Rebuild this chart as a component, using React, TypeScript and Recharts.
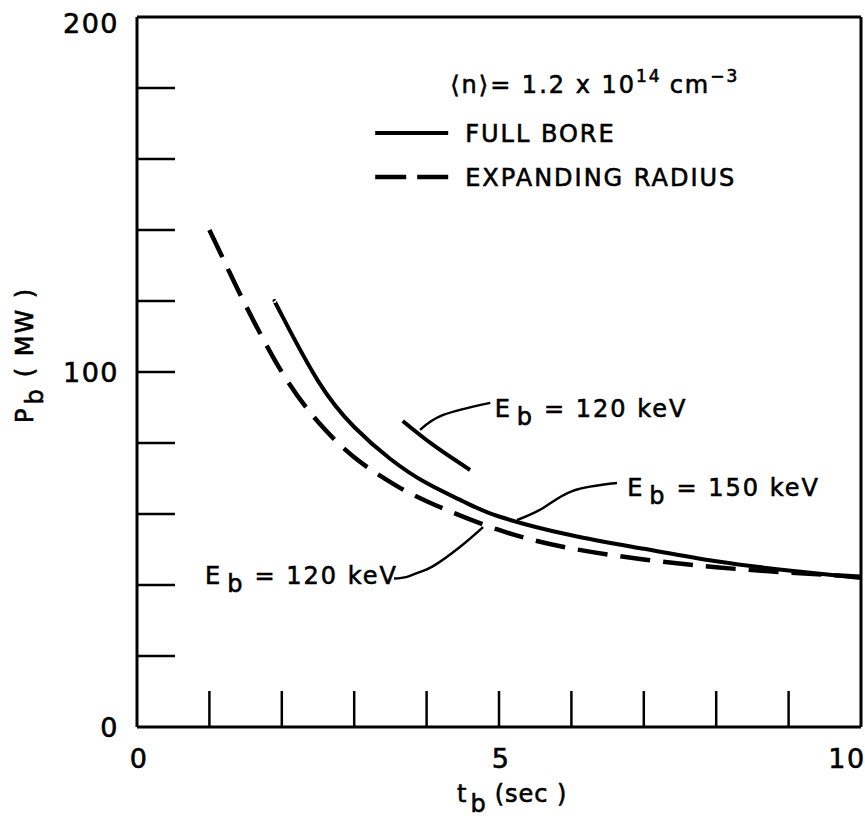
import { LineChart, Line, XAxis, YAxis, ReferenceDot } from 'recharts';

const FONT = '"DejaVu Sans", sans-serif';
const INK = '#000';
const TICK_LEN = 36;

// t_b (sec) -> P_b (MW)
const fullBore150T = [1.9, 2, 2.5, 3, 3.5, 4, 4.5, 5, 6, 7, 8, 9, 10];
const fullBore150P = [120, 116, 97.5, 84.5, 75.5, 68.7, 63.6, 59.3, 54, 50.2, 46.7, 44.1, 42];
const fullBore120T = [3.67, 4.1, 4.6];
const fullBore120P = [86.2, 79.3, 72.4];
const expanding120T = [1, 1.25, 1.5, 2, 2.5, 3, 3.5, 4, 5, 6, 7, 8, 9, 10];
const expanding120P = [140, 129.3, 118.8, 100, 86, 76, 69, 63.6, 55.5, 50.3, 47.2, 45, 43.5, 42.3];

// annotation leaders (from label to curve)
const leaderUpperT = [3.91, 4.23, 4.88];
const leaderUpperP = [83.7, 87.9, 91.3];
const leaderMidT = [5.25, 5.61, 6.02, 6.63];
const leaderMidP = [58.3, 61.7, 66.5, 68.7];
const leaderLowT = [3.55, 3.73, 3.91, 4.09, 4.46, 4.78];
const leaderLowP = [41.8, 42.3, 43.7, 45.3, 50.7, 56.3];

const xTicks = [0, 1, 2, 3, 4, 5, 6, 7, 8, 9, 10];
const xLabelTicks = [0, 5, 10];
const yTicks = [0, 20, 40, 60, 80, 100, 120, 140, 160, 180, 200];
const yLabelTicks = [0, 100, 200];

const notes = [
  { t: 4.94, p: 87.3, energy: '120' },
  { t: 6.77, p: 65.1, energy: '150' },
  { t: 0.94, p: 40.3, energy: '120' },
];

const zip = (ts: number[], ps: number[]) => ts.map((t, i) => ({ t, p: ps[i] }));

const textStyle = { fontFamily: FONT, fontSize: 24, letterSpacing: 2, fill: INK, stroke: INK, strokeWidth: 0.6 };
const numStyle = { ...textStyle, fontSize: 27, letterSpacing: 1.5 };

const BottomTick = (props: any) => {
  const { x, y, payload } = props;
  const v = payload.value;
  return (
    <g>
      {v > 0 && v < 10 && <line x1={x} y1={y} x2={x} y2={y - TICK_LEN} stroke={INK} strokeWidth={2.5} />}
      {xLabelTicks.includes(v) && (
        <text x={v === 10 ? x - 14 : x + 2} y={y + 41} textAnchor="middle" {...numStyle}>
          {v}
        </text>
      )}
    </g>
  );
};

const TopTick = (props: any) => {
  const { x, y } = props;
  return <line x1={x} y1={y} x2={x} y2={y + TICK_LEN - 2} stroke={INK} strokeWidth={2.5} />;
};

const LeftTick = (props: any) => {
  const { x, y, payload } = props;
  const v = payload.value;
  return (
    <g>
      {v > 0 && v < 200 && <line x1={x} y1={y} x2={x + TICK_LEN + 2} y2={y} stroke={INK} strokeWidth={2.5} />}
      {yLabelTicks.includes(v) && (
        <text x={x - 18} y={v === 200 ? y + 16 : y + 10} textAnchor="end" {...numStyle}>
          {v}
        </text>
      )}
    </g>
  );
};

const RightTick = (props: any) => {
  const { x, y, payload } = props;
  if (payload.value <= 0 || payload.value >= 200) return <g />;
  return <line x1={x} y1={y} x2={x - TICK_LEN + 2} y2={y} stroke={INK} strokeWidth={2.5} />;
};

const EbNote = ({ cx, cy, energy }: any) => (
  <text x={cx} y={cy} {...textStyle}>
    <tspan>E</tspan>
    <tspan dx={5} dy={8}>b</tspan>
    <tspan dx={10} dy={-8}>{`= ${energy} keV`}</tspan>
  </text>
);

const LegendBlock = ({ cx, cy }: any) => (
  <g>
    <text x={cx + 75} y={cy - 40} {...textStyle}>
      <tspan>⟨n⟩= 1.2 x 10</tspan>
      <tspan dy={-11} fontSize={17}>14</tspan>
      <tspan dx={8} dy={11}>cm</tspan>
      <tspan dy={-11} fontSize={17}>−3</tspan>
    </text>
    <line x1={cx} y1={cy} x2={cx + 73} y2={cy} stroke={INK} strokeWidth={4} />
    <text x={cx + 90} y={cy + 9} {...textStyle}>FULL BORE</text>
    <line x1={cx} y1={cy + 44} x2={cx + 73} y2={cy + 44} stroke={INK} strokeWidth={4.5} strokeDasharray="31 11" />
    <text x={cx + 90} y={cy + 53} {...textStyle}>EXPANDING RADIUS</text>
  </g>
);

const XLabel = ({ viewBox }: any) => (
  <text x={viewBox.x + 320} y={viewBox.y + 75} {...textStyle} letterSpacing={1}>
    <tspan>t</tspan>
    <tspan dx={3} dy={10}>b</tspan>
    <tspan dx={8} dy={-10}>(sec )</tspan>
  </text>
);

const YLabel = ({ viewBox }: any) => {
  const x = viewBox.x - 4;
  const y = 423;
  return (
    <text x={x} y={y} transform={`rotate(-90, ${x}, ${y})`} {...textStyle}>
      <tspan>P</tspan>
      <tspan dx={2} dy={10}>b</tspan>
      <tspan dx={10} dy={-10}>( MW )</tspan>
    </text>
  );
};

const lineCommon = {
  dataKey: 'p',
  stroke: INK,
  dot: false,
  activeDot: false,
  isAnimationActive: false,
} as const;

export default function App() {
  return (
    <div style={{ position: 'absolute', left: 0, top: 0, width: 865, height: 821, background: '#fff' }}>
      <LineChart width={865} height={821} margin={{ top: 16, right: 3, bottom: 14, left: 37 }}>
        <XAxis
          dataKey="t"
          type="number"
          domain={[0, 10]}
          ticks={xTicks}
          interval={0}
          height={80}
          tickSize={0}
          tickMargin={0}
          tickLine={false}
          axisLine={{ stroke: INK, strokeWidth: 3 }}
          tick={<BottomTick />}
          label={<XLabel />}
        />
        <XAxis
          xAxisId="top"
          orientation="top"
          dataKey="t"
          type="number"
          domain={[0, 10]}
          ticks={xTicks}
          interval={0}
          height={1}
          tickSize={0}
          tickMargin={0}
          tickLine={false}
          axisLine={{ stroke: INK, strokeWidth: 3 }}
          tick={<TopTick />}
        />
        <YAxis
          type="number"
          domain={[0, 200]}
          ticks={yTicks}
          interval={0}
          width={100}
          tickSize={0}
          tickMargin={0}
          tickLine={false}
          axisLine={{ stroke: INK, strokeWidth: 3 }}
          tick={<LeftTick />}
          label={<YLabel />}
        />
        <YAxis
          yAxisId="right"
          orientation="right"
          type="number"
          domain={[0, 200]}
          ticks={yTicks}
          interval={0}
          width={1}
          tickSize={0}
          tickMargin={0}
          tickLine={false}
          axisLine={{ stroke: INK, strokeWidth: 3 }}
          tick={<RightTick />}
        />

        <Line {...lineCommon} data={zip(expanding120T, expanding120P)} type="natural" strokeWidth={4.5} strokeDasharray="30 13" />
        <Line {...lineCommon} data={zip(fullBore150T, fullBore150P)} type="natural" strokeWidth={4} />
        <Line {...lineCommon} data={zip(fullBore120T, fullBore120P)} type="natural" strokeWidth={4} />

        <Line {...lineCommon} data={zip(leaderUpperT, leaderUpperP)} type="natural" strokeWidth={2.5} />
        <Line {...lineCommon} data={zip(leaderMidT, leaderMidP)} type="natural" strokeWidth={2.5} />
        <Line {...lineCommon} data={zip(leaderLowT, leaderLowP)} type="natural" strokeWidth={2.5} />

        {notes.map((n, i) => (
          <ReferenceDot
            key={i}
            x={n.t}
            y={n.p}
            r={0}
            ifOverflow="visible"
            shape={(p: any) => <EbNote cx={p.cx} cy={p.cy} energy={n.energy} />}
          />
        ))}
        <ReferenceDot x={3.29} y={167.3} r={0} ifOverflow="visible" shape={(p: any) => <LegendBlock cx={p.cx} cy={p.cy} />} />
      </LineChart>
    </div>
  );
}
